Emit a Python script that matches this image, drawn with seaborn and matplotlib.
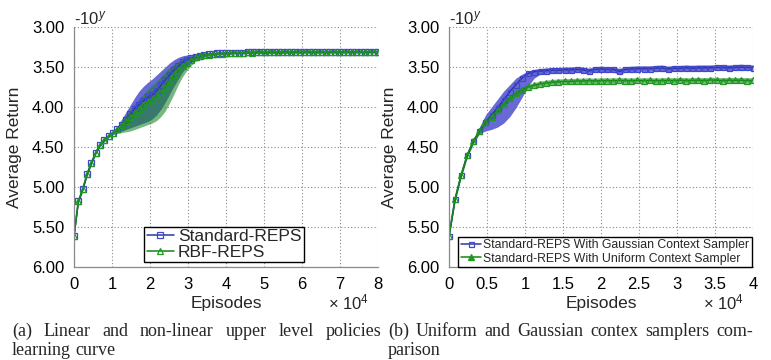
import numpy as np
import pandas as pd
import matplotlib
matplotlib.use("Agg")
import matplotlib.pyplot as plt
import seaborn as sns

# ---------------- data (x in units of 1e4 episodes, y = exponent of -10^y) ----------------
left_x = np.linspace(0, 8, 71)
left_std_mean = [5.61, 5.18, 5.03, 4.84, 4.70, 4.57, 4.47, 4.41, 4.36, 4.32,
                 4.28, 4.22, 4.16, 4.09, 4.02, 3.97, 3.92, 3.88, 3.85, 3.80,
                 3.73, 3.66, 3.60, 3.54, 3.49, 3.44, 3.41, 3.39, 3.37, 3.36,
                 3.35, 3.34, 3.335, 3.33, 3.33, 3.325, 3.325, 3.32, 3.32, 3.32,
                 3.315, 3.318, 3.315, 3.314, 3.316, 3.313, 3.315, 3.312, 3.314, 3.312,
                 3.313, 3.311, 3.313, 3.311, 3.312, 3.31, 3.312, 3.31, 3.311, 3.31,
                 3.311, 3.309, 3.31, 3.309, 3.31, 3.308, 3.31, 3.309, 3.308, 3.309, 3.308]
left_std_lo = [5.63, 5.20, 5.05, 4.86, 4.72, 4.59, 4.49, 4.43, 4.38, 4.34,
               4.32, 4.30, 4.28, 4.26, 4.24, 4.22, 4.20, 4.18, 4.15, 4.10,
               4.03, 3.94, 3.84, 3.74, 3.65, 3.56, 3.49, 3.44, 3.40, 3.38,
               3.37, 3.358, 3.35, 3.345, 3.345, 3.34, 3.34, 3.335, 3.335, 3.335,
               3.33, 3.333, 3.33, 3.329, 3.331, 3.328, 3.33, 3.327, 3.329, 3.327,
               3.328, 3.326, 3.328, 3.326, 3.327, 3.325, 3.327, 3.325, 3.326, 3.325,
               3.326, 3.324, 3.325, 3.324, 3.325, 3.323, 3.325, 3.324, 3.323, 3.324, 3.323]
left_std_hi = [5.59, 5.16, 5.01, 4.82, 4.68, 4.55, 4.45, 4.39, 4.34, 4.30,
               4.24, 4.15, 4.06, 3.97, 3.88, 3.80, 3.74, 3.69, 3.65, 3.60,
               3.55, 3.50, 3.45, 3.41, 3.38, 3.36, 3.35, 3.345, 3.34, 3.335,
               3.33, 3.322, 3.32, 3.315, 3.315, 3.31, 3.31, 3.305, 3.305, 3.305,
               3.30, 3.303, 3.30, 3.299, 3.301, 3.298, 3.30, 3.297, 3.299, 3.297,
               3.298, 3.296, 3.298, 3.296, 3.297, 3.295, 3.297, 3.295, 3.296, 3.295,
               3.296, 3.294, 3.295, 3.294, 3.295, 3.293, 3.295, 3.294, 3.293, 3.294, 3.293]
left_rbf_mean = [5.61, 5.18, 5.03, 4.84, 4.70, 4.57, 4.47, 4.41, 4.36, 4.32,
                 4.28, 4.23, 4.18, 4.13, 4.07, 4.02, 3.98, 3.94, 3.91, 3.86,
                 3.81, 3.75, 3.67, 3.60, 3.54, 3.49, 3.45, 3.41, 3.38, 3.36,
                 3.35, 3.345, 3.34, 3.335, 3.332, 3.327, 3.327, 3.322, 3.322, 3.321,
                 3.317, 3.319, 3.316, 3.316, 3.317, 3.315, 3.316, 3.314, 3.315, 3.313,
                 3.314, 3.312, 3.314, 3.312, 3.313, 3.311, 3.313, 3.311, 3.312, 3.311,
                 3.312, 3.31, 3.311, 3.31, 3.311, 3.309, 3.311, 3.31, 3.309, 3.31, 3.309]
left_rbf_lo = [5.63, 5.20, 5.05, 4.86, 4.72, 4.59, 4.49, 4.43, 4.38, 4.34,
               4.33, 4.32, 4.31, 4.30, 4.28, 4.26, 4.24, 4.22, 4.20, 4.17,
               4.12, 4.05, 3.95, 3.84, 3.72, 3.62, 3.54, 3.48, 3.43, 3.40,
               3.38, 3.365, 3.355, 3.35, 3.347, 3.342, 3.342, 3.337, 3.337, 3.336,
               3.332, 3.334, 3.331, 3.331, 3.332, 3.33, 3.331, 3.329, 3.33, 3.328,
               3.329, 3.327, 3.329, 3.327, 3.328, 3.326, 3.328, 3.326, 3.327, 3.326,
               3.327, 3.325, 3.326, 3.325, 3.326, 3.324, 3.326, 3.325, 3.324, 3.325, 3.324]
left_rbf_hi = [5.59, 5.16, 5.01, 4.82, 4.68, 4.55, 4.45, 4.39, 4.34, 4.30,
               4.25, 4.18, 4.10, 4.03, 3.96, 3.90, 3.84, 3.78, 3.73, 3.68,
               3.62, 3.56, 3.51, 3.47, 3.43, 3.40, 3.38, 3.37, 3.36, 3.35,
               3.34, 3.325, 3.325, 3.32, 3.317, 3.312, 3.312, 3.307, 3.307, 3.306,
               3.302, 3.304, 3.301, 3.301, 3.302, 3.30, 3.301, 3.299, 3.30, 3.298,
               3.299, 3.297, 3.299, 3.297, 3.298, 3.296, 3.298, 3.296, 3.297, 3.296,
               3.297, 3.295, 3.296, 3.295, 3.296, 3.294, 3.296, 3.295, 3.294, 3.295, 3.294]

right_x = np.linspace(0, 4, 51)
right_gauss_mean = [5.61, 5.15, 4.85, 4.60, 4.43, 4.30, 4.19, 4.10, 4.01, 3.91,
                    3.81, 3.72, 3.64, 3.58, 3.56, 3.55, 3.545, 3.54, 3.54, 3.535,
                    3.535, 3.53, 3.535, 3.55, 3.53, 3.525, 3.53, 3.53, 3.555, 3.53,
                    3.525, 3.52, 3.52, 3.52, 3.515, 3.51, 3.525, 3.515, 3.515, 3.51,
                    3.515, 3.51, 3.51, 3.51, 3.505, 3.505, 3.51, 3.505, 3.50, 3.505, 3.51]
right_gauss_lo = [5.63, 5.17, 4.87, 4.62, 4.45, 4.33, 4.30, 4.28, 4.25, 4.20,
                  4.12, 4.01, 3.88, 3.74, 3.64, 3.59, 3.58, 3.575, 3.575, 3.57,
                  3.57, 3.565, 3.57, 3.585, 3.565, 3.56, 3.565, 3.565, 3.59, 3.565,
                  3.56, 3.555, 3.555, 3.555, 3.55, 3.545, 3.56, 3.55, 3.55, 3.545,
                  3.55, 3.545, 3.545, 3.545, 3.54, 3.54, 3.545, 3.54, 3.535, 3.54, 3.545]
right_gauss_hi = [5.59, 5.13, 4.83, 4.58, 4.41, 4.25, 4.10, 4.00, 3.90, 3.80,
                  3.72, 3.64, 3.59, 3.55, 3.53, 3.52, 3.51, 3.505, 3.505, 3.50,
                  3.50, 3.495, 3.50, 3.515, 3.495, 3.49, 3.495, 3.495, 3.52, 3.495,
                  3.49, 3.485, 3.485, 3.485, 3.48, 3.475, 3.49, 3.48, 3.48, 3.475,
                  3.48, 3.475, 3.475, 3.475, 3.47, 3.47, 3.475, 3.47, 3.465, 3.47, 3.475]
right_unif_mean = [5.61, 5.15, 4.85, 4.60, 4.43, 4.30, 4.19, 4.12, 4.04, 3.96,
                   3.89, 3.83, 3.79, 3.75, 3.73, 3.71, 3.70, 3.69, 3.685, 3.68,
                   3.68, 3.675, 3.675, 3.67, 3.675, 3.67, 3.67, 3.672, 3.668, 3.67,
                   3.672, 3.668, 3.67, 3.668, 3.672, 3.67, 3.668, 3.67, 3.665, 3.67,
                   3.668, 3.665, 3.67, 3.662, 3.665, 3.67, 3.665, 3.668, 3.665, 3.67, 3.668]
right_unif_hi = [m - 0.035 for m in right_unif_mean]
right_unif_lo = [m + 0.035 for m in right_unif_mean]

# ---------------- style ----------------
sns.set_style("white")
plt.rcParams['font.family'] = ['Liberation Sans', 'DejaVu Sans']
plt.rcParams['mathtext.fontset'] = 'custom'
plt.rcParams['mathtext.rm'] = 'Liberation Sans'
plt.rcParams['mathtext.it'] = 'Liberation Sans:italic'

BLUE_BAND = (0.41, 0.41, 0.84)
GREEN_BAND = (0.08, 0.52, 0.12)
BLUE_LINE = (0.17, 0.22, 0.62)
BLUE_MARK = (0.25, 0.28, 0.80)
GREEN_LINE = (0.08, 0.52, 0.08)
GREEN_MARK = (0.12, 0.60, 0.12)

W, H = 771, 360
fig = plt.figure(figsize=(W / 100, H / 100), dpi=100)
axL = fig.add_axes([74 / W, 1 - 267 / H, 304 / W, 240 / H])
axR = fig.add_axes([449 / W, 1 - 267 / H, 304 / W, 240 / H])


def style_axes(ax, xmax, xticks, xticklabels):
    ax.set_xlim(0, xmax)
    ax.set_ylim(6.0, 3.0)
    ax.set_yticks([3.0, 3.5, 4.0, 4.5, 5.0, 5.5, 6.0])
    ax.set_yticklabels(["3.00", "3.50", "4.00", "4.50", "5.00", "5.50", "6.00"])
    ax.set_xticks(xticks)
    ax.set_xticklabels(xticklabels)
    ax.tick_params(length=0, labelsize=12, pad=7, colors='black')
    ax.grid(True, color='#8a8a8a', linestyle=(0, (1, 2)), linewidth=0.8)
    for s in ['top', 'right']:
        ax.spines[s].set_visible(False)
    for s in ['left', 'bottom']:
        ax.spines[s].set_color('#8a8a8a')
        ax.spines[s].set_linewidth(0.9)
    ax.set_ylabel("Average Return", fontsize=12.5, labelpad=7)
    ax.set_xlabel("Episodes", fontsize=12.5, labelpad=3)
    ax.text(0.0, 1.0, r"-10$^{y}$", transform=ax.transAxes, ha='left', va='bottom',
            fontsize=12)
    ax.text(0.97, -(309 - 267) / 240, r"$\times$ 10$^{4}$", transform=ax.transAxes,
            ha='right', va='baseline', fontsize=12)


# left panel
axL.fill_between(left_x, left_std_lo, left_std_hi, color=BLUE_BAND, alpha=1.0, lw=0)
axL.fill_between(left_x, left_rbf_lo, left_rbf_hi, color=GREEN_BAND, alpha=0.58, lw=0)
sns.lineplot(x=left_x, y=left_std_mean, ax=axL, color=BLUE_LINE, lw=1.1, marker='s',
             markersize=4.2, markerfacecolor='none', markeredgecolor=BLUE_MARK,
             markeredgewidth=0.9, label="Standard-REPS", errorbar=None)
sns.lineplot(x=left_x, y=left_rbf_mean, ax=axL, color=GREEN_LINE, lw=1.1, marker='^',
             markersize=4.6, markerfacecolor='none', markeredgecolor=GREEN_MARK,
             markeredgewidth=0.9, label="RBF-REPS", errorbar=None)
style_axes(axL, 8, list(range(9)), [str(i) for i in range(9)])
legL = axL.legend(loc='lower left', bbox_to_anchor=(0.23, 0.02), fontsize=12.5,
                  frameon=True, fancybox=False, edgecolor='black', framealpha=1,
                  handlelength=1.6, handletextpad=0.2, labelspacing=0.0,
                  borderpad=0.15, borderaxespad=0)
legL.get_frame().set_linewidth(1.0)

# right panel
axR.fill_between(right_x, right_gauss_lo, right_gauss_hi, color=BLUE_BAND, alpha=1.0, lw=0)
axR.fill_between(right_x, right_unif_lo, right_unif_hi, color=GREEN_BAND, alpha=0.58, lw=0)
sns.lineplot(x=right_x, y=right_gauss_mean, ax=axR, color=BLUE_LINE, lw=1.1, marker='s',
             markersize=3.6, markerfacecolor='none', markeredgecolor=BLUE_MARK,
             markeredgewidth=0.9, label="Standard-REPS With Gaussian Context Sampler",
             errorbar=None)
sns.lineplot(x=right_x, y=right_unif_mean, ax=axR, color=GREEN_LINE, lw=1.1, marker='^',
             markersize=4.0, markerfacecolor='none', markeredgecolor=GREEN_MARK,
             markeredgewidth=0.9, label="Standard-REPS With Uniform Context Sampler",
             errorbar=None)
style_axes(axR, 4, [0, 0.5, 1, 1.5, 2, 2.5, 3, 3.5, 4],
           ["0", "0.5", "1", "1.5", "2", "2.5", "3", "3.5", "4"])
legR = axR.legend(loc='lower left', bbox_to_anchor=(0.03, 0.0), fontsize=8.8,
                  frameon=True, fancybox=False, edgecolor='black', framealpha=1,
                  handlelength=1.7, handletextpad=0.15, labelspacing=0.1,
                  borderpad=0.2, borderaxespad=0)
legR.get_frame().set_linewidth(1.0)
# legend marker for uniform sampler is a filled triangle
legR.legend_handles[1].set_markerfacecolor(GREEN_MARK)

# ---------------- captions (justified) ----------------
renderer = fig.canvas.get_renderer()


def justified_line(words, x0, x1, ybase, justify=True, size=13):
    texts = [fig.text(0, 1 - ybase / H, w, fontsize=size, family='Liberation Serif',
                      ha='left', va='baseline') for w in words]
    widths = [t.get_window_extent(renderer).width for t in texts]
    if justify and len(words) > 1:
        gap = (x1 - x0 - sum(widths)) / (len(words) - 1)
    else:
        gap = 4.0
    x = x0
    for t, w in zip(texts, widths):
        t.set_x(x / W)
        x += w + gap


justified_line(["(a)", "Linear", "and", "non-linear", "upper", "level", "policies"], 12, 381, 336)
justified_line(["learning", "curve"], 12, 381, 355, justify=False)
justified_line(["(b)", "Uniform", "and", "Gaussian", "contex", "samplers", "com-"], 388, 753, 336)
justified_line(["parison"], 388, 753, 355, justify=False)

fig.savefig("out.png", dpi=100)
